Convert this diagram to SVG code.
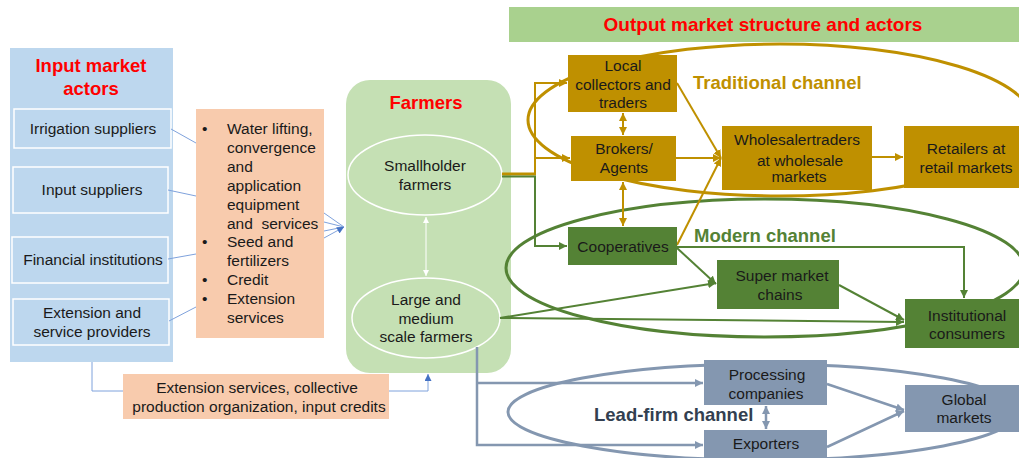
<svg xmlns="http://www.w3.org/2000/svg" width="1019" height="458" viewBox="0 0 1019 458">
  <defs>
    <style>
      text { font-family: "Liberation Sans", Arial, sans-serif; font-size: 15.5px; fill: #1a1a1a; }
      .c { text-anchor: middle; }
      .title { font-weight: bold; font-size: 18.5px; fill: #ff0000; text-anchor: middle; }
      .chan { font-weight: bold; font-size: 18.5px; }
      .inbox { fill: #bdd7ee; stroke: #ffffff; stroke-width: 1.5; }
      .gold { fill: #bf9000; }
      .green { fill: #548235; }
      .slate { fill: #8497b0; }
      .thin { fill: none; stroke: #7fa2dc; stroke-width: 1; }
      .lg { fill: none; stroke: #bf9000; stroke-width: 2; }
      .lgr { fill: none; stroke: #548235; stroke-width: 2; }
      .ls { fill: none; stroke: #8497b0; stroke-width: 2.5; }
    </style>
    <marker id="aGold" viewBox="0 0 10 10" refX="10" refY="5" markerWidth="8" markerHeight="8" markerUnits="userSpaceOnUse" orient="auto-start-reverse">
      <path d="M0,0 L10,5 L0,10 z" fill="#bf9000"/>
    </marker>
    <marker id="aGreen" viewBox="0 0 10 10" refX="10" refY="5" markerWidth="8" markerHeight="8" markerUnits="userSpaceOnUse" orient="auto-start-reverse">
      <path d="M0,0 L10,5 L0,10 z" fill="#548235"/>
    </marker>
    <marker id="aSlate" viewBox="0 0 10 10" refX="10" refY="5" markerWidth="8" markerHeight="8" markerUnits="userSpaceOnUse" orient="auto-start-reverse">
      <path d="M0,0 L10,5 L0,10 z" fill="#8497b0"/>
    </marker>
    <marker id="aBlue" viewBox="0 0 10 10" refX="10" refY="5" markerWidth="7" markerHeight="7" markerUnits="userSpaceOnUse" orient="auto-start-reverse">
      <path d="M0,0 L10,5 L0,10 z" fill="#4472c4"/>
    </marker>
    <marker id="aWhite" viewBox="0 0 10 10" refX="10" refY="5" markerWidth="6" markerHeight="6" markerUnits="userSpaceOnUse" orient="auto-start-reverse">
      <path d="M0,0 L10,5 L0,10 z" fill="#ffffff"/>
    </marker>
  </defs>

  <rect width="1019" height="458" fill="#ffffff"/>

  <!-- Input market actors -->
  <g id="input-actors">
    <rect x="10" y="48" width="163" height="314" fill="#bdd7ee"/>
    <text class="title" x="91" y="72">Input market</text>
    <text class="title" x="91" y="95">actors</text>
  </g>
  <g id="irrigation-suppliers">
    <rect class="inbox" x="14" y="109" width="157" height="39"/>
    <text class="c" x="93" y="134">Irrigation suppliers</text>
  </g>
  <g id="input-suppliers">
    <rect class="inbox" x="13" y="167" width="155" height="46"/>
    <text class="c" x="92" y="195">Input suppliers</text>
  </g>
  <g id="financial-institutions">
    <rect class="inbox" x="12" y="237" width="156" height="46"/>
    <text class="c" x="93" y="265">Financial institutions</text>
  </g>
  <g id="extension-providers">
    <rect class="inbox" x="13" y="299" width="156" height="46"/>
    <text class="c" x="92" y="318">Extension and</text>
    <text class="c" x="92" y="337">service providers</text>
  </g>

  <!-- Inputs supplied -->
  <g id="inputs-list">
    <rect x="196" y="109" width="128" height="229" fill="#f8cbad"/>
    <text x="202" y="134">•</text>
    <text x="227" y="134">Water lifting,</text>
    <text x="227" y="153">convergence</text>
    <text x="227" y="172">and</text>
    <text x="227" y="191">application</text>
    <text x="227" y="210">equipment</text>
    <text x="227" y="229">and&#160; services</text>
    <text x="202" y="247">•</text>
    <text x="227" y="247">Seed and</text>
    <text x="227" y="266">fertilizers</text>
    <text x="202" y="285">•</text>
    <text x="227" y="285">Credit</text>
    <text x="202" y="304">•</text>
    <text x="227" y="304">Extension</text>
    <text x="227" y="323">services</text>
  </g>

  <!-- Farmers -->
  <g id="farmers">
    <rect x="346" y="80" width="165" height="293" rx="24" fill="#c5e0b4"/>
    <text class="title" x="426" y="109">Farmers</text>
  </g>
  <g id="smallholder-farmers">
    <ellipse cx="425" cy="175" rx="77" ry="40" fill="none" stroke="#ffffff" stroke-width="1.5"/>
    <text class="c" x="425" y="171">Smallholder</text>
    <text class="c" x="425" y="190">farmers</text>
  </g>
  <g id="large-farmers">
    <ellipse cx="426" cy="318" rx="74" ry="40" fill="none" stroke="#ffffff" stroke-width="1.5"/>
    <text class="c" x="426" y="305">Large and</text>
    <text class="c" x="426" y="324">medium</text>
    <text class="c" x="426" y="342">scale farmers</text>
  </g>

  <!-- Support services to farmers -->
  <g id="support-services">
    <rect x="123" y="374" width="266" height="45" fill="#f8cbad"/>
    <text class="c" x="257" y="393">Extension services, collective</text>
    <text class="c" x="259" y="412">production organization, input credits</text>
  </g>

  <!-- Channel outlines -->
  <g id="channels">
    <ellipse cx="780" cy="120" rx="252" ry="76" fill="none" stroke="#bf9000" stroke-width="3"/>
    <ellipse cx="765" cy="268" rx="259" ry="69" fill="none" stroke="#548235" stroke-width="3"/>
    <ellipse cx="763" cy="412" rx="255" ry="48" fill="none" stroke="#8497b0" stroke-width="3"/>
    <text class="chan" x="693" y="89" style="fill:#bf9000">Traditional channel</text>
    <text class="chan" x="694" y="242" style="fill:#548235">Modern channel</text>
    <text class="chan" x="594" y="421" style="fill:#333f50">Lead-firm channel</text>
  </g>

  <!-- Connectors -->
  <g id="connectors">
    <!-- input actors to input list -->
    <line class="thin" x1="171" y1="129" x2="196" y2="143"/>
    <line class="thin" x1="168" y1="190" x2="196" y2="196"/>
    <line class="thin" x1="168" y1="259" x2="196" y2="254"/>
    <line class="thin" x1="169" y1="321" x2="196" y2="307"/>
    <!-- input list to farmers -->
    <line class="thin" x1="324" y1="213" x2="344" y2="227"/>
    <line class="thin" x1="324" y1="222" x2="344" y2="227"/>
    <line class="thin" x1="324" y1="231" x2="344" y2="227"/>
    <line class="thin" x1="324" y1="238" x2="344" y2="227" marker-end="url(#aBlue)"/>
    <!-- support services loop -->
    <polyline class="thin" points="92,362 92,391 123,391"/>
    <polyline class="thin" points="389,391 428,391 428,374" marker-end="url(#aBlue)"/>
    <!-- between farmer types -->
    <line x1="426" y1="217" x2="426" y2="276" stroke="#ffffff" stroke-width="1" marker-start="url(#aWhite)" marker-end="url(#aWhite)"/>

    <!-- smallholders to traditional / cooperatives -->
    <line x1="502" y1="174" x2="536" y2="174" stroke="#bf9000" stroke-width="3"/>
    <polyline class="lg" points="535,175 535,83 567,83" marker-end="url(#aGold)"/>
    <polyline class="lg" points="535,158 570,158" marker-end="url(#aGold)"/>
    <polyline class="lgr" points="502,176.5 535,176.5 535,246 567,246" marker-end="url(#aGreen)"/>

    <!-- traditional channel -->
    <line class="lg" x1="623" y1="113" x2="623" y2="135" marker-start="url(#aGold)" marker-end="url(#aGold)"/>
    <line class="lg" x1="623" y1="182" x2="623" y2="226" marker-start="url(#aGold)" marker-end="url(#aGold)"/>
    <line class="lg" x1="677" y1="83" x2="721" y2="158" marker-end="url(#aGold)"/>
    <line class="lg" x1="676" y1="158" x2="721" y2="158" marker-end="url(#aGold)"/>
    <line class="lg" x1="677" y1="245" x2="721" y2="158" marker-end="url(#aGold)"/>
    <line class="lg" x1="872" y1="157" x2="903" y2="157" marker-end="url(#aGold)"/>

    <!-- modern channel -->
    <polyline class="lgr" points="677,247 964,247 964,298" marker-end="url(#aGreen)"/>
    <line class="lgr" x1="677" y1="248" x2="716" y2="284" marker-end="url(#aGreen)"/>
    <line class="lgr" x1="839" y1="285" x2="904" y2="320" marker-end="url(#aGreen)"/>
    <line class="lgr" x1="500" y1="318" x2="716" y2="283" marker-end="url(#aGreen)"/>
    <line class="lgr" x1="500" y1="318" x2="904" y2="322" marker-end="url(#aGreen)"/>

    <!-- lead-firm channel -->
    <polyline class="ls" points="477,347 477,445 703,445" marker-end="url(#aSlate)"/>
    <polyline class="ls" points="477,383 703,383" marker-end="url(#aSlate)"/>
    <line class="ls" x1="766" y1="406" x2="766" y2="429" stroke-width="2" marker-start="url(#aSlate)" marker-end="url(#aSlate)"/>
    <line class="ls" x1="827" y1="384" x2="904" y2="410" marker-end="url(#aSlate)"/>
    <line class="ls" x1="827" y1="447" x2="904" y2="411" marker-end="url(#aSlate)"/>
  </g>

  <!-- Output market header -->
  <g id="output-header">
    <rect x="509" y="7" width="510" height="35" fill="#a9d18e"/>
    <text class="title" x="763" y="31" style="font-size:19px">Output market structure and actors</text>
  </g>

  <!-- Traditional channel actors -->
  <g id="local-collectors">
    <rect class="gold" x="568" y="55" width="109" height="57"/>
    <text class="c" x="623" y="71">Local</text>
    <text class="c" x="623" y="90">collectors and</text>
    <text class="c" x="623" y="108">traders</text>
  </g>
  <g id="brokers-agents">
    <rect class="gold" x="571" y="136" width="105" height="45"/>
    <text class="c" x="624" y="154">Brokers/</text>
    <text class="c" x="624" y="173">Agents</text>
  </g>
  <g id="wholesale-traders">
    <rect class="gold" x="722" y="126" width="150" height="64"/>
    <text class="c" x="797" y="145">Wholesalertraders</text>
    <text class="c" x="800" y="166">at wholesale</text>
    <text class="c" x="799" y="182">markets</text>
  </g>
  <g id="retailers">
    <rect class="gold" x="904" y="126" width="115" height="62"/>
    <text class="c" x="966" y="154">Retailers at</text>
    <text class="c" x="966" y="173">retail markets</text>
  </g>

  <!-- Modern channel actors -->
  <g id="cooperatives">
    <rect class="green" x="568" y="227" width="109" height="38"/>
    <text class="c" x="623" y="252">Cooperatives</text>
  </g>
  <g id="supermarket-chains">
    <rect class="green" x="717" y="260" width="122" height="49"/>
    <text class="c" x="782" y="281">Super market</text>
    <text class="c" x="780" y="300">chains</text>
  </g>
  <g id="institutional-consumers">
    <rect class="green" x="905" y="299" width="114" height="49"/>
    <text class="c" x="967" y="321">Institutional</text>
    <text class="c" x="967" y="339">consumers</text>
  </g>

  <!-- Lead-firm channel actors -->
  <g id="processing-companies">
    <rect class="slate" x="704" y="360" width="123" height="45"/>
    <text class="c" x="767" y="380">Processing</text>
    <text class="c" x="766" y="399">companies</text>
  </g>
  <g id="exporters">
    <rect class="slate" x="704" y="430" width="123" height="30"/>
    <text class="c" x="766" y="449">Exporters</text>
  </g>
  <g id="global-markets">
    <rect class="slate" x="905" y="385" width="114" height="47"/>
    <text class="c" x="964" y="405">Global</text>
    <text class="c" x="964" y="423">markets</text>
  </g>
</svg>
